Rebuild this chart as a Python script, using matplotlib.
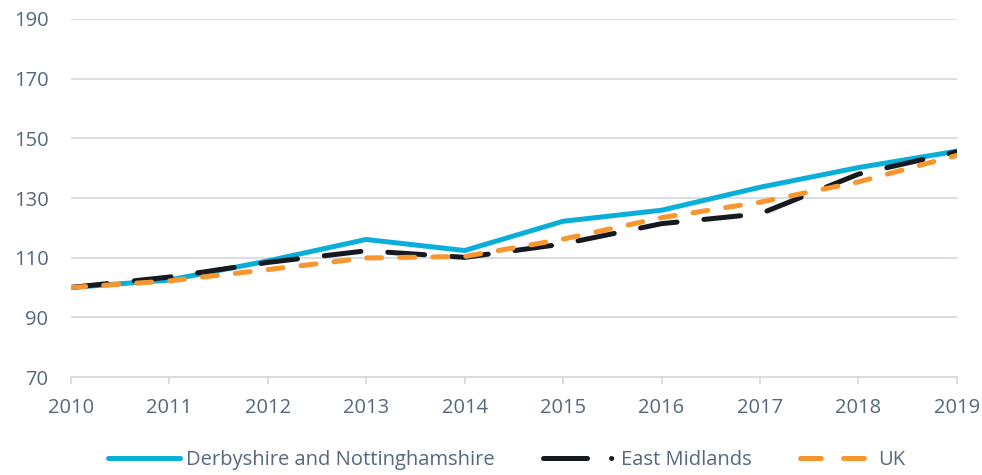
import matplotlib
matplotlib.use("Agg")
import matplotlib.pyplot as plt
from matplotlib.lines import Line2D

years = [2010, 2011, 2012, 2013, 2014, 2015, 2016, 2017, 2018, 2019]
derby_notts = [100, 102.5, 108.9, 116.1, 112.4, 122.2, 125.9, 133.6, 140.2, 145.7]
east_midlands = [100, 103.5, 108.4, 112.3, 110.1, 114.6, 121.4, 124.7, 138.0, 145.5]
uk = [100, 102.2, 106.0, 109.9, 110.4, 116.2, 123.4, 128.6, 135.4, 144.3]

labels = ["Derbyshire and Nottinghamshire", "East Midlands", "UK"]
colors = ["#0AAFD9", "#16191F", "#F7962F"]
yticks = [70, 90, 110, 130, 150, 170, 190]

plt.rcParams['font.family'] = ['Open Sans', 'DejaVu Sans']
plt.rcParams['lines.scale_dashes'] = False
text_color = "#56677E"
grid_color = "#D6DBE2"
fs = 14.5

fig = plt.figure(figsize=(9.82, 4.75), dpi=100)
ax = fig.add_axes([0.072, 0.2063, 0.9025, 0.7537])

lw = 3.6
ax.plot(years, derby_notts, color=colors[0], lw=lw, solid_capstyle='round', zorder=3)
ax.plot(years, east_midlands, color=colors[1], lw=lw, dashes=(26.6, 19.4),
        dash_capstyle='round', zorder=4)
ax.plot(years, uk, color=colors[2], lw=lw, dashes=(10.8, 13),
        dash_capstyle='round', zorder=5)

ax.set_xlim(2010, 2019)
ax.set_ylim(70, 190)
ax.set_yticks(yticks)
ax.set_xticks(years)
ax.grid(axis='y', color=grid_color, lw=1.3, zorder=0)
for s in ['top', 'right', 'left']:
    ax.spines[s].set_visible(False)
ax.spines['bottom'].set_color(grid_color)
ax.spines['bottom'].set_linewidth(1.3)
ax.tick_params(axis='y', length=0, labelsize=fs, colors=text_color, pad=16)
ax.tick_params(axis='x', length=5, width=1.3, color=grid_color, labelsize=fs,
               labelcolor=text_color, pad=10, direction='out')

handles = [
    Line2D([], [], color=colors[0], lw=lw, solid_capstyle='round'),
    Line2D([], [], color=colors[1], lw=lw, dashes=(31.7, 17.3, 0.1, 40), dash_capstyle='round'),
    Line2D([], [], color=colors[2], lw=lw, dashes=(15, 16), dash_capstyle='round'),
]
leg = fig.legend(handles, labels, loc='center', bbox_to_anchor=(0.516, 0.032),
                 ncol=3, frameon=False, fontsize=fs, handlelength=3.58,
                 handletextpad=0.3, columnspacing=2.4, labelcolor=text_color,
                 borderpad=0, borderaxespad=0)

fig.savefig("out.png", dpi=100)
